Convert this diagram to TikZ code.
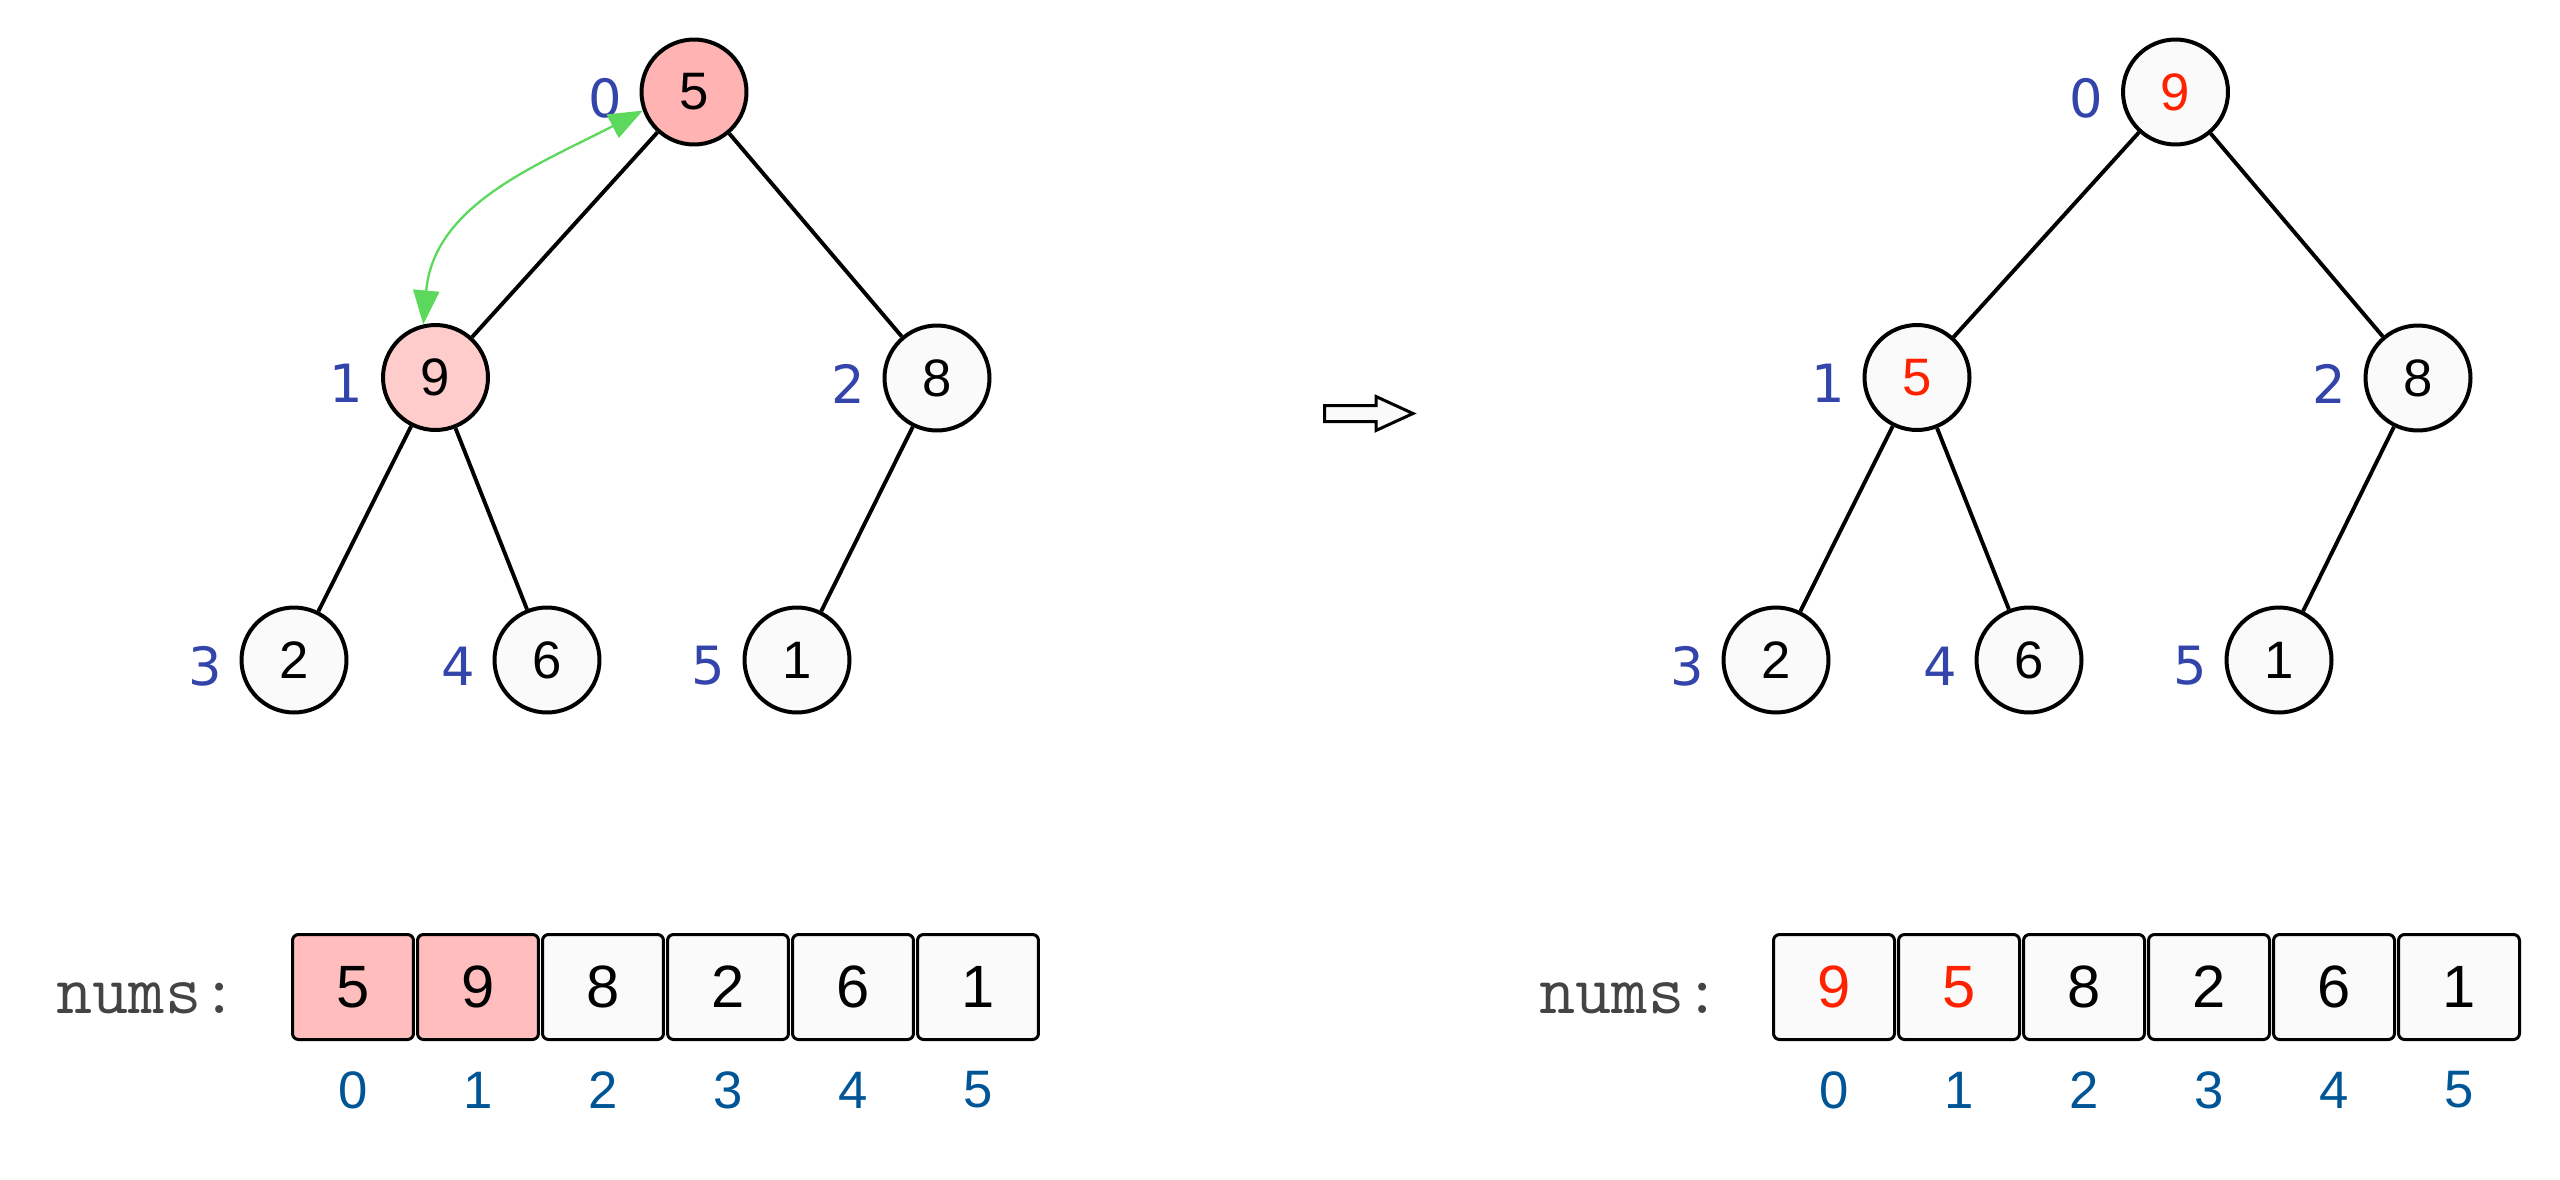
\documentclass[tikz,border=0pt]{standalone}
\usepackage{fontspec}
\setmainfont{Liberation Sans}
\newfontfamily\idxfont{DejaVu Sans}
\usetikzlibrary{arrows.meta}

\definecolor{nodegray}{HTML}{FAFAFA}
\definecolor{rootpink}{HTML}{FFB3B3}
\definecolor{childpink}{HTML}{FFCCCC}
\definecolor{cellpink}{HTML}{FFBDBD}
\definecolor{swapred}{HTML}{FF2200}
\definecolor{treeidx}{HTML}{3344AA}
\definecolor{arridx}{HTML}{005596}
\definecolor{swapgreen}{HTML}{5CD95C}
\definecolor{codegray}{HTML}{444444}

\begin{document}
\begin{tikzpicture}[x=0.02cm, y=-0.02cm,
  treenode/.style={circle, draw=black, line width=0.08cm, minimum size=2.1cm,
    inner sep=0pt, fill=nodegray, font=\fontsize{30}{36}\selectfont},
  idxlabel/.style={text=treeidx, inner sep=0pt, font=\idxfont\fontsize{30}{36}\selectfont},
  cell/.style={rectangle, draw=black, line width=0.06cm, rounded corners=0.12cm,
    minimum width=2.42cm, minimum height=2.1cm, inner sep=0pt, fill=nodegray,
    font=\fontsize{34}{40}\selectfont},
  cellidx/.style={text=arridx, inner sep=0pt, font=\fontsize{30}{36}\selectfont},
  codelabel/.style={text=codegray, inner sep=0pt, anchor=base,
    font=\ttfamily\fontsize{40}{46}\selectfont},
  edge/.style={draw=black, line width=0.078cm},
  swaparrow/.style={draw=swapgreen, line width=0.046cm,
    {Triangle[length=0.68cm,width=0.52cm]}-{Triangle[length=0.68cm,width=0.52cm]}},
  swapped/.style={text=swapred}
]
\fill[white] (0,0) rectangle (2560,1180);
\useasboundingbox (0,0) rectangle (2560,1180);

% ---------- heap before sifting down ----------
\node[treenode, fill=rootpink]  (a0) at (694,92)    {5};
\node[treenode, fill=childpink] (a1) at (435.5,377.5) {9};
\node[treenode] (a2) at (937,378) {8};
\node[treenode] (a3) at (294,660) {2};
\node[treenode] (a4) at (547,660) {6};
\node[treenode] (a5) at (797,660) {1};

\node[idxlabel] (la0) at (605,98)    {0};
\node[idxlabel] (la1) at (346.5,383.5) {1};
\node[idxlabel] (la2) at (848,384)   {2};
\node[idxlabel] (la3) at (205,666)   {3};
\node[idxlabel] (la4) at (458,666)   {4};
\node[idxlabel] (la5) at (708,666)   {5};

\draw[edge] (a0) -- (a1);
\draw[edge] (a0) -- (a2);
\draw[edge] (a1) -- (a3);
\draw[edge] (a1) -- (a4);
\draw[edge] (a2) -- (a5);

% swap of the root with its larger child
\draw[swaparrow] (a0.200) .. controls +(-106.6,55.1) and +(10.6,-119.5) .. (a1.103);

% ---------- heap after the swap ----------
\node[treenode] (b0) at (2175.5,92) {\textcolor{swapred}{9}};
\node[treenode] (b1) at (1917,377.5) {\textcolor{swapred}{5}};
\node[treenode] (b2) at (2418,378) {8};
\node[treenode] (b3) at (1776,660) {2};
\node[treenode] (b4) at (2029,660) {6};
\node[treenode] (b5) at (2279,660) {1};

\node[idxlabel] (lb0) at (2086.5,98)  {0};
\node[idxlabel] (lb1) at (1828,383.5) {1};
\node[idxlabel] (lb2) at (2329,384)   {2};
\node[idxlabel] (lb3) at (1687,666)   {3};
\node[idxlabel] (lb4) at (1940,666)   {4};
\node[idxlabel] (lb5) at (2190,666)   {5};

\draw[edge] (b0) -- (b1);
\draw[edge] (b0) -- (b2);
\draw[edge] (b1) -- (b3);
\draw[edge] (b1) -- (b4);
\draw[edge] (b2) -- (b5);

% ---------- transition arrow ----------
\draw[line width=0.06cm, fill=nodegray, line join=miter]
  (1324.5,405.5) -- (1376,405.5) -- (1376,396.5) -- (1413,413.5)
  -- (1376,430.5) -- (1376,421.5) -- (1324.5,421.5) -- cycle;

% ---------- arrays ----------
\node[codelabel] (na) at (147,1013) {nums:};
\node[codelabel] (nb) at (1630,1013) {nums:};

\foreach \v/\i/\f in {5/0/cellpink, 9/1/cellpink, 8/2/nodegray, 2/3/nodegray, 6/4/nodegray, 1/5/nodegray} {
  \node[cell, fill=\f] (ca\i) at ({353+125*\i},987) {\v};
  \node[cellidx] (ia\i) at ({353+125*\i},1090) {\i};
}
\foreach \v/\i/\s in {9/0/swapped, 5/1/swapped, 8/2/{}, 2/3/{}, 6/4/{}, 1/5/{}} {
  \node[cell, \s] (cb\i) at ({1834+125*\i},987) {\v};
  \node[cellidx] (ib\i) at ({1834+125*\i},1090) {\i};
}
\end{tikzpicture}
\end{document}
